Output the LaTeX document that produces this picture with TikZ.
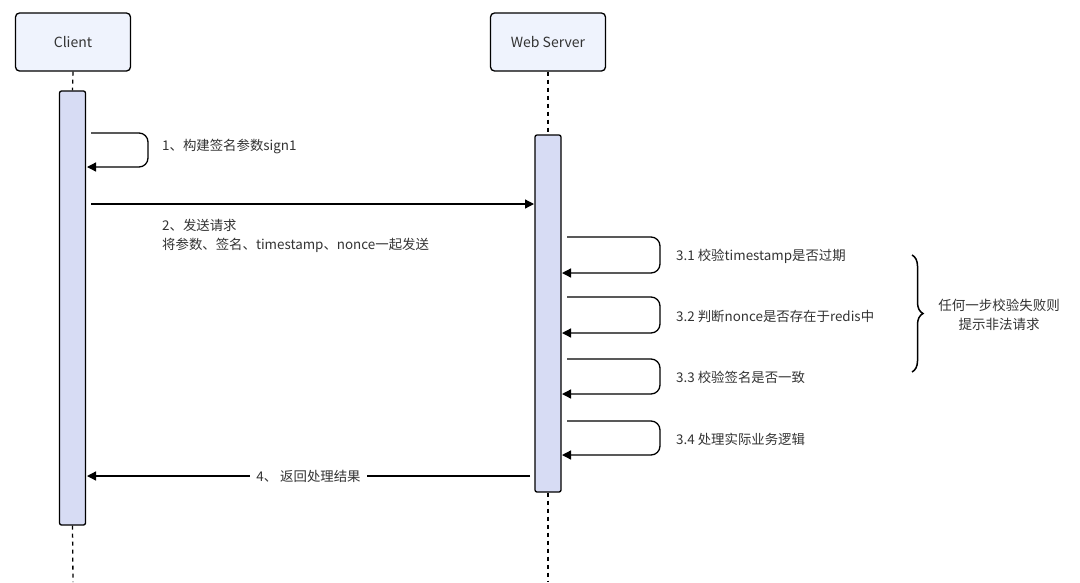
\documentclass[tikz,border=0pt]{standalone}
\usepackage{fontspec}
\setmainfont{Noto Sans CJK SC}
\usetikzlibrary{arrows.meta,positioning,decorations.pathreplacing}
\definecolor{actorfill}{HTML}{EFF3FD}
\definecolor{barfill}{HTML}{D7DCF4}
\definecolor{txt}{HTML}{333333}

\begin{document}
\begin{tikzpicture}[
    x=1pt, y=-1pt,
    actor/.style={draw, rounded corners=4pt, line width=1.3pt, fill=actorfill,
                  minimum width=115pt, minimum height=58pt, text=txt,
                  font=\fontsize{14}{16}\selectfont},
    bar/.style={draw, rounded corners=2pt, line width=1.3pt, fill=barfill,
                minimum width=26pt, inner sep=0pt},
    life/.style={line width=1.3pt, dash pattern=on 4pt off 4pt},
    msg/.style={line width=1.3pt, -{Triangle[length=9pt,width=9pt]}},
    loop/.style={msg, rounded corners=9pt},
    lbl/.style={anchor=west, text=txt, align=left, inner sep=0pt,
                font=\fontsize{13.4}{19}\selectfont},
]
  \useasboundingbox (0,0) rectangle (1080,582);

  % Participants
  \node[actor] (client) at (73,42) {Client};
  \node[actor] (server) at (548,42) {Web Server};

  % Activation bars
  \node[bar, minimum height=434pt] (cbar) at (72.5,308) {};
  \node[bar, minimum height=357pt] (sbar) at (548,313.5) {};

  % Lifelines
  \coordinate (cend) at (73,582);
  \coordinate (send) at (548,582);
  \draw[life] (client.south) -- (cbar.north);
  \draw[life] (cbar.south) -- (cend);
  \draw[life] (server.south) -- (sbar.north);
  \draw[life] (sbar.south) -- (send);

  % 1: self call on client
  \coordinate (m1a) at (91,133);
  \coordinate (m1b) at (87,167);
  \draw[loop] (m1a) -- ++(57,0) |- (m1b);
  \node[lbl] (l1) at (162,147) {1、构建签名参数sign1};

  % 2: request
  \coordinate (m2a) at (91,204);
  \coordinate (m2b) at (534,204);
  \draw[msg] (m2a) -- (m2b);
  \node[lbl] (l2) at (162,236) {2、发送请求\\将参数、签名、timestamp、nonce一起发送};

  % 3.x: checks on server
  \foreach \ya/\yb/\t [count=\i] in {237/273/{3.1 校验timestamp是否过期},
                                       297/333/{3.2 判断nonce是否存在于redis中},
                                       359/394/{3.3 校验签名是否一致},
                                       421/455/{3.4 处理实际业务逻辑}}{
    \coordinate (c\i a) at (567,\ya);
    \coordinate (c\i b) at (562,\yb);
    \draw[loop] (c\i a) -- ++(93,0) |- (c\i b);
    \node[lbl] (lc\i) at (676,{(\ya+\yb)/2+1}) {\t};
  }

  % Failure note
  \coordinate (bra) at (912,255);
  \coordinate (brb) at (912,372);
  \draw[line width=1.5pt, decorate, decoration={brace, amplitude=11pt}] (bra) -- (brb);
  \node[text=txt, align=center, font=\fontsize{13.5}{19}\selectfont] (note) at (999,315)
    {任何一步校验失败则\\提示非法请求};

  % 4: response
  \coordinate (m4a) at (530,476);
  \coordinate (m4b) at (87,476);
  \draw[msg] (m4a) -- (m4b)
    node[midway, fill=white, text=txt, inner xsep=6pt, font=\fontsize{13.4}{16}\selectfont] {4、 返回处理结果};
\end{tikzpicture}
\end{document}
